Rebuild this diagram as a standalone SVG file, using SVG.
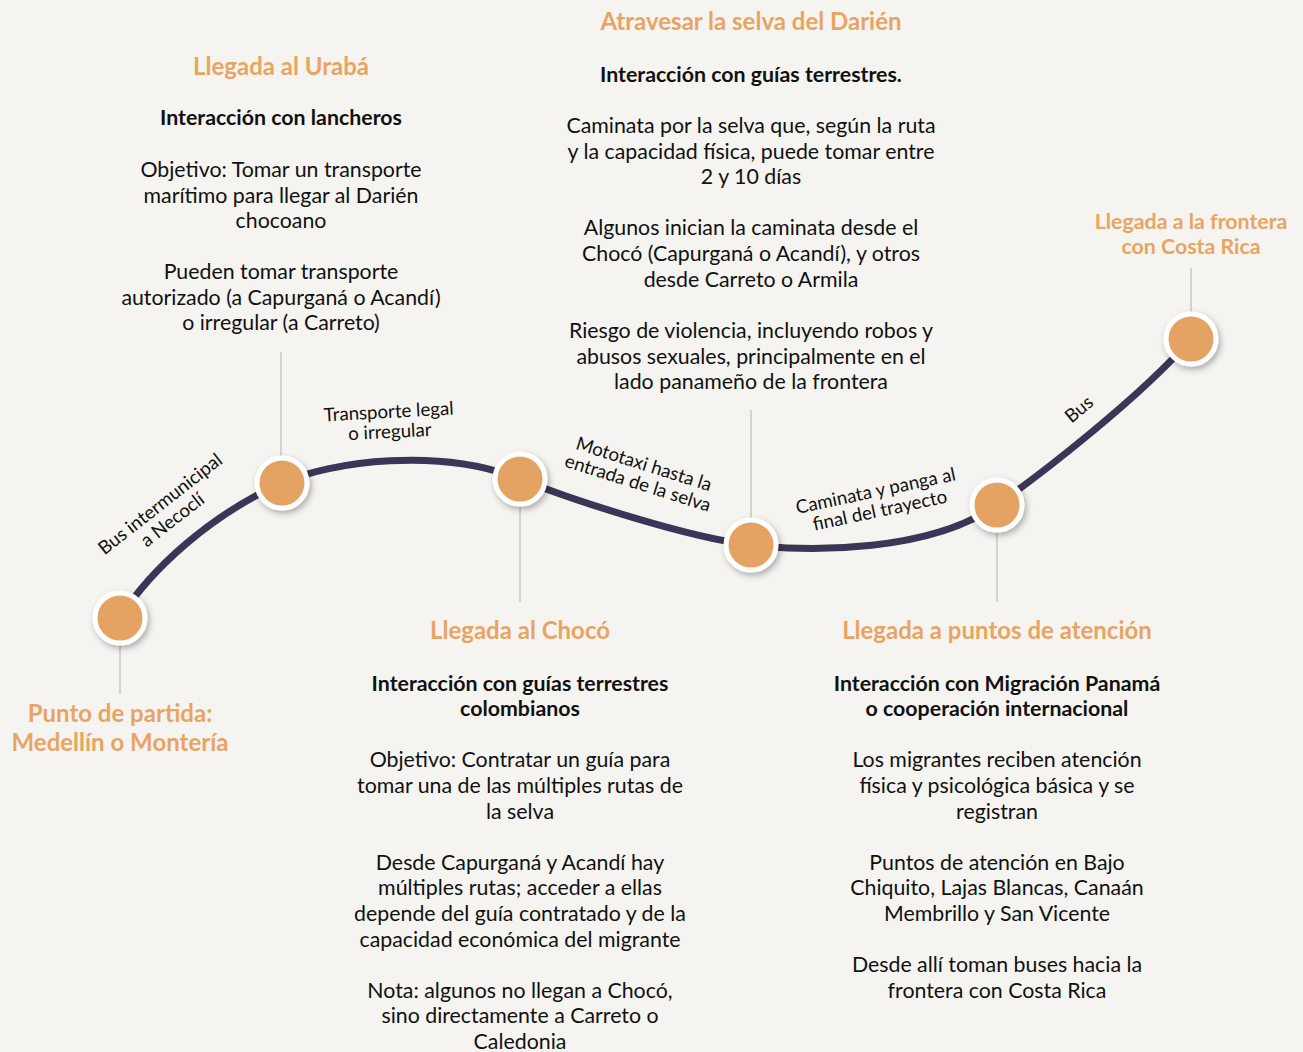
<svg xmlns="http://www.w3.org/2000/svg" width="1303" height="1052" viewBox="0 0 1303 1052">
<defs>
<style>
.bg{fill:#f5f4f0}
.title{font-family:Lato,"Open Sans",sans-serif;font-weight:700;font-size:24px;fill:#e8a462;text-anchor:middle}
.title2{font-family:Lato,"Open Sans",sans-serif;font-weight:700;font-size:21.33px;fill:#e8a462;text-anchor:middle}
.sub{font-family:Lato,"Open Sans",sans-serif;font-weight:700;font-size:21.33px;fill:#111;text-anchor:middle}
.body{font-family:Lato,"Open Sans",sans-serif;font-size:21.33px;fill:#111;text-anchor:middle}
.lbl{font-family:Lato,"Open Sans",sans-serif;font-size:18.67px;fill:#111;text-anchor:middle}
.stem{stroke:#c9c7c2;stroke-width:1.5}
.dot{fill:#e4a362;stroke:#fff;stroke-width:5;filter:url(#sh)}
.route{fill:none;stroke:#3d3557;stroke-width:7;stroke-linecap:round}
</style>
<filter id="sh" x="-50%" y="-50%" width="200%" height="200%">
<feDropShadow dx="2" dy="3" stdDeviation="3" flood-color="#000" flood-opacity="0.3"/>
</filter>
</defs>
<rect class="bg" x="0" y="0" width="1303" height="1052"/>

<g id="connectors">
<path class="route" d="M120,618 C150,570 210,515 282,483 C332,461 440,447 520,479 C575,501 690,538 751,545 C812,552 930,552 997,505 C1037,477 1140,398 1191,339"/>
<g transform="translate(164,509) rotate(-38)"><text x="0" y="0" class="lbl">Bus intermunicipal</text><text x="0" y="20" class="lbl">a Necoclí</text></g>
<g transform="translate(389,418) rotate(-3)"><text x="0" y="0" class="lbl">Transporte legal</text><text x="0" y="20" class="lbl">o irregular</text></g>
<g transform="translate(642,470) rotate(17.5)"><text x="0" y="0" class="lbl">Mototaxi hasta la</text><text x="0" y="20" class="lbl">entrada de la selva</text></g>
<g transform="translate(877,497) rotate(-12)"><text x="0" y="0" class="lbl">Caminata y panga al</text><text x="0" y="20" class="lbl">final del trayecto</text></g>
<g transform="translate(1083,414) rotate(-40)"><text x="0" y="0" class="lbl">Bus</text></g>
</g>

<g id="node-partida">
<line class="stem" x1="120" y1="618" x2="120" y2="694"/>
<circle class="dot" cx="120" cy="618" r="25"/>
<text class="title" x="120" y="722">Punto de partida:</text>
<text class="title" x="120" y="751">Medellín o Montería</text>
</g>

<g id="node-uraba">
<line class="stem" x1="281" y1="352" x2="281" y2="483"/>
<circle class="dot" cx="282" cy="483" r="25"/>
<text class="title" x="281" y="75">Llegada al Urabá</text>
<text class="sub" x="281" y="125">Interacción con lancheros</text>
<text class="body" x="281" y="177">Objetivo: Tomar un transporte</text>
<text class="body" x="281" y="203">marítimo para llegar al Darién</text>
<text class="body" x="281" y="228">chocoano</text>
<text class="body" x="281" y="279">Pueden tomar transporte</text>
<text class="body" x="281" y="305">autorizado (a Capurganá o Acandí)</text>
<text class="body" x="281" y="330">o irregular (a Carreto)</text>
</g>

<g id="node-choco">
<line class="stem" x1="520" y1="479" x2="520" y2="602"/>
<circle class="dot" cx="520" cy="479" r="25"/>
<text class="title" x="520" y="639">Llegada al Chocó</text>
<text class="sub" x="520" y="691">Interacción con guías terrestres</text>
<text class="sub" x="520" y="716">colombianos</text>
<text class="body" x="520" y="767">Objetivo: Contratar un guía para</text>
<text class="body" x="520" y="793">tomar una de las múltiples rutas de</text>
<text class="body" x="520" y="819">la selva</text>
<text class="body" x="520" y="870">Desde Capurganá y Acandí hay</text>
<text class="body" x="520" y="895">múltiples rutas; acceder a ellas</text>
<text class="body" x="520" y="921">depende del guía contratado y de la</text>
<text class="body" x="520" y="947">capacidad económica del migrante</text>
<text class="body" x="520" y="998">Nota: algunos no llegan a Chocó,</text>
<text class="body" x="520" y="1023">sino directamente a Carreto o</text>
<text class="body" x="520" y="1049">Caledonia</text>
</g>

<g id="node-darien">
<line class="stem" x1="751" y1="410" x2="751" y2="545"/>
<circle class="dot" cx="751" cy="545" r="25"/>
<text class="title" x="751" y="30">Atravesar la selva del Darién</text>
<text class="sub" x="751" y="82">Interacción con guías terrestres.</text>
<text class="body" x="751" y="133">Caminata por la selva que, según la ruta</text>
<text class="body" x="751" y="159">y la capacidad física, puede tomar entre</text>
<text class="body" x="751" y="184">2 y 10 días</text>
<text class="body" x="751" y="235">Algunos inician la caminata desde el</text>
<text class="body" x="751" y="261">Chocó (Capurganá o Acandí), y otros</text>
<text class="body" x="751" y="287">desde Carreto o Armila</text>
<text class="body" x="751" y="338">Riesgo de violencia, incluyendo robos y</text>
<text class="body" x="751" y="364">abusos sexuales, principalmente en el</text>
<text class="body" x="751" y="389">lado panameño de la frontera</text>
</g>

<g id="node-atencion">
<line class="stem" x1="997" y1="505" x2="997" y2="602"/>
<circle class="dot" cx="997" cy="505" r="25"/>
<text class="title" x="997" y="639">Llegada a puntos de atención</text>
<text class="sub" x="997" y="691">Interacción con Migración Panamá</text>
<text class="sub" x="997" y="716">o cooperación internacional</text>
<text class="body" x="997" y="767">Los migrantes reciben atención</text>
<text class="body" x="997" y="793">física y psicológica básica y se</text>
<text class="body" x="997" y="819">registran</text>
<text class="body" x="997" y="870">Puntos de atención en Bajo</text>
<text class="body" x="997" y="895">Chiquito, Lajas Blancas, Canaán</text>
<text class="body" x="997" y="921">Membrillo y San Vicente</text>
<text class="body" x="997" y="972">Desde allí toman buses hacia la</text>
<text class="body" x="997" y="998">frontera con Costa Rica</text>
</g>

<g id="node-frontera">
<line class="stem" x1="1191" y1="268" x2="1191" y2="339"/>
<circle class="dot" cx="1191" cy="339" r="25"/>
<text class="title2" x="1191" y="229">Llegada a la frontera</text>
<text class="title2" x="1191" y="254">con Costa Rica</text>
</g>
</svg>
